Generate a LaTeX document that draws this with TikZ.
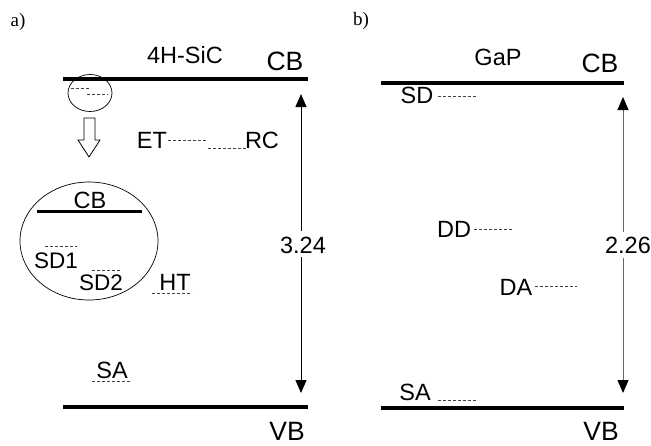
\documentclass[tikz,border=0pt]{standalone}
\usepackage{fontspec}
\setmainfont{Liberation Sans}
\newfontfamily\serifpanel{Liberation Serif}
\usetikzlibrary{arrows.meta}
\tikzset{
  lbl/.style={inner sep=0pt, anchor=base, font=\fontsize{23.5}{27}\selectfont},
  bandlbl/.style={inner sep=0pt, anchor=base, font=\fontsize{26.5}{30}\selectfont},
  panellbl/.style={inner sep=0pt, anchor=base, font=\serifpanel\fontsize{19}{22}\selectfont},
  band/.style={line width=3.5pt},
  lvl/.style={line width=0.8pt, dash pattern=on 3pt off 2pt, draw=black!75},
  gap/.style={line width=1pt, -{Triangle[length=13pt,width=11pt,color=black]}},
}
\begin{document}
\begin{tikzpicture}[x=1pt,y=-1pt]
\useasboundingbox (0,0) rectangle (651,445);
% ---------------- panel a
\node[panellbl] (pa) at (18,26) {a)};
\node[lbl] (sic) at (185,63) {4H-SiC};
\node[bandlbl] (cba) at (285,70) {CB};
\coordinate (cbaL) at (63,79); \coordinate (cbaR) at (308,79);
\draw[band] (cbaL) -- (cbaR);
\coordinate (vbaL) at (63,407); \coordinate (vbaR) at (308,407);
\draw[band] (vbaL) -- (vbaR);
\node[bandlbl] (vba) at (287,440) {VB};
% small circle
\draw[line width=0.7pt] (90,93) ellipse [x radius=22, y radius=18.5];
\draw[lvl] (71,88) -- (91,88);
\draw[lvl] (87,94) -- (108,94);
% hollow arrow
\draw[line width=0.8pt] (84,118) -- (95,118) -- (95,140) -- (100,140) -- (89,157) -- (78,140) -- (84,140) -- cycle;
% ET / RC
\node[lbl] (et) at (152,148) {ET};
\draw[lvl] (168,140) -- (207,140);
\draw[lvl] (208,148) -- (247,148);
\node[lbl] (rc) at (262,148) {RC};
% big ellipse
\draw[line width=0.7pt] (89,241) ellipse [x radius=69, y radius=59];
\node[lbl] (cbi) at (90,208) {CB};
\coordinate (cbiL) at (37,211); \coordinate (cbiR) at (142,211);
\draw[line width=3pt] (cbiL) -- (cbiR);
\draw[lvl] (45,246) -- (77,246);
\node[lbl, font=\fontsize{22.5}{26}\selectfont] (sd1) at (56,268) {SD1};
\draw[lvl] (92,270) -- (120,270);
\node[lbl, font=\fontsize{22.5}{26}\selectfont] (sd2) at (101,290) {SD2};
\node[lbl] (ht) at (175,290) {HT};
\draw[lvl] (152,293) -- (192,293);
\node[lbl] (saa) at (112,378) {SA};
\draw[lvl] (92,381) -- (132,381);
% gap arrow a
\node[lbl] (ga) at (303,253) {3.24};
\coordinate (gaT) at (301,94);
\coordinate (gaB) at (301,393);
\draw[gap] (301,231) -- (gaT);
\draw[gap] (301,257) -- (gaB);
% ---------------- panel b
\node[panellbl] (pb) at (361,25) {b)};
\node[lbl] (gap) at (498,65) {GaP};
\node[bandlbl] (cbb) at (600,72) {CB};
\coordinate (cbbL) at (381,83); \coordinate (cbbR) at (624,83);
\draw[band] (cbbL) -- (cbbR);
\coordinate (vbbL) at (381,408); \coordinate (vbbR) at (624,408);
\draw[band] (vbbL) -- (vbbR);
\node[bandlbl] (vbb) at (601,440) {VB};
\node[lbl] (sd) at (417,103) {SD};
\draw[lvl] (438,96) -- (478,96);
\node[lbl] (dd) at (454,237) {DD};
\draw[lvl] (474,229) -- (513,229);
\node[lbl] (da) at (516,295) {DA};
\draw[lvl] (535,286) -- (577,286);
\node[lbl] (sab) at (415,400) {SA};
\draw[lvl] (438,400) -- (478,400);
\node[lbl] (gb) at (628,253) {2.26};
\coordinate (gbT) at (623,97);
\coordinate (gbB) at (623,393);
\draw[gap, draw=gray!80!black] (623,232) -- (gbT);
\draw[gap, draw=gray!80!black] (623,258) -- (gbB);
\end{tikzpicture}
\end{document}
